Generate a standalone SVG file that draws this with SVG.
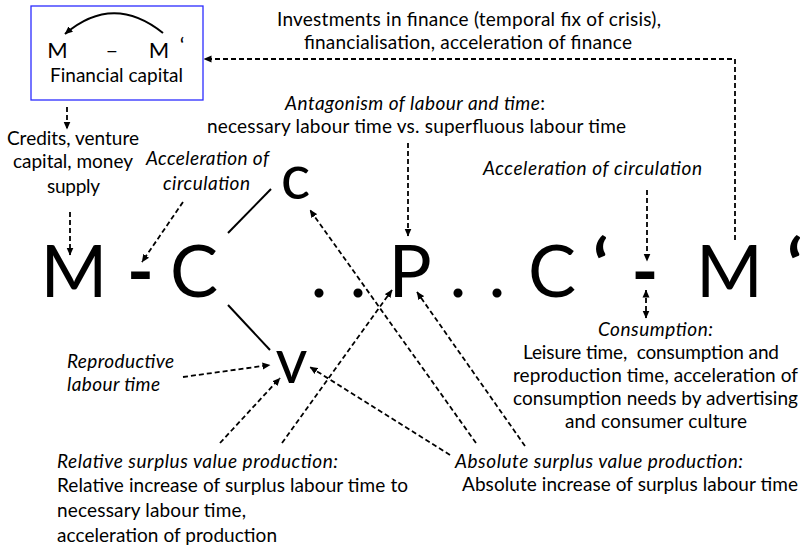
<svg xmlns="http://www.w3.org/2000/svg" width="802" height="548" viewBox="0 0 802 548">
<style>
text{font-family:Lato,"Liberation Sans",sans-serif;fill:#000}
.t{font-size:19px}
.i{font-style:italic}
.m{text-anchor:middle}
.big{font-size:72px;text-anchor:middle}
.sm{font-size:62px;text-anchor:middle}
.bx{font-size:22px;text-anchor:middle}
.b{font-weight:700}
.d{fill:none;stroke:#000;stroke-width:1.8;stroke-dasharray:5 3}
.s{fill:none;stroke:#000;stroke-width:2}
</style>
<defs>
<marker id="a" markerUnits="userSpaceOnUse" markerWidth="8" markerHeight="8" refX="7.5" refY="4" orient="auto-start-reverse" viewBox="0 0 8 8"><path d="M0,0.5 L8,4 L0,7.5z" fill="#000"/></marker>
</defs>
<rect width="802" height="548" fill="#fff"/>

<g id="financial-capital">
<rect x="31" y="6" width="172" height="94" fill="#fff" stroke="#2b2bff" stroke-width="1.3"/>
<path class="s" d="M163,33 Q113,-7 65,34" marker-end="url(#a)"/>
<text x="57.5" y="58" class="bx">M</text>
<text x="112" y="58" class="bx">–</text>
<text x="159" y="58" class="bx">M</text>
<text x="182" y="53" class="bx">‘</text>
<text x="116.5" y="82" class="t m" textLength="133" lengthAdjust="spacing">Financial capital</text>
</g>

<g id="credits">
<text x="73" y="145" class="t m" textLength="132" lengthAdjust="spacing">Credits, venture</text>
<text x="73" y="168" class="t m" textLength="120" lengthAdjust="spacing">capital, money</text>
<text x="73.5" y="193" class="t m" textLength="53" lengthAdjust="spacing">supply</text>
</g>

<g id="investments">
<text x="469" y="26" class="t m" textLength="384" lengthAdjust="spacing">Investments in finance (temporal fix of crisis),</text>
<text x="468" y="49" class="t m" textLength="328" lengthAdjust="spacing">financialisation, acceleration of finance</text>
</g>

<g id="antagonism">
<text x="415" y="110" class="t m" textLength="260" lengthAdjust="spacing"><tspan class="i">Antagonism of labour and time</tspan>:</text>
<text x="416.5" y="133" class="t m" textLength="419" lengthAdjust="spacing">necessary labour time vs. superfluous labour time</text>
</g>

<g id="acceleration-circulation-left">
<text x="207.5" y="165" class="t i m" textLength="123" lengthAdjust="spacing">Acceleration of</text>
<text x="206.5" y="190" class="t i m" textLength="87" lengthAdjust="spacing">circulation</text>
</g>

<g id="acceleration-circulation-right">
<text x="592.5" y="175" class="t i m" textLength="219" lengthAdjust="spacing">Acceleration of circulation</text>
</g>

<g id="formula">
<text x="74" y="297" class="big">M</text>
<text x="140.5" y="297" class="big b">-</text>
<text x="194" y="297" class="big">C</text>
<text x="319" y="297" class="big">.</text>
<text x="358" y="297" class="big">.</text>
<text x="410" y="297" class="big">P</text>
<text x="458" y="297" class="big">.</text>
<text x="497" y="297" class="big">.</text>
<text x="552" y="297" class="big">C</text>
<text x="601" y="292" class="big b">‘</text>
<text x="645" y="297" class="big b">-</text>
<text x="729.5" y="297" class="big">M</text>
<text x="795" y="292" class="big b">‘</text>
</g>

<g id="c-node">
<text x="295.5" y="199" class="sm">c</text>
</g>

<g id="v-node">
<text x="291.5" y="383" class="sm">v</text>
</g>

<g id="reproductive">
<text x="67" y="368" class="t i" textLength="107" lengthAdjust="spacing">Reproductive</text>
<text x="67" y="391" class="t i" textLength="93" lengthAdjust="spacing">labour time</text>
</g>

<g id="consumption">
<text x="655.5" y="336" class="t i m" textLength="115" lengthAdjust="spacing">Consumption:</text>
<text x="651" y="359" class="t m" xml:space="preserve" textLength="256" lengthAdjust="spacing">Leisure time,  consumption and</text>
<text x="655.5" y="382" class="t m" textLength="285" lengthAdjust="spacing">reproduction time, acceleration of</text>
<text x="655.5" y="405" class="t m" textLength="285" lengthAdjust="spacing">consumption needs by advertising</text>
<text x="656" y="428" class="t m" textLength="182" lengthAdjust="spacing">and consumer culture</text>
</g>

<g id="relative">
<text x="57" y="468" class="t i" textLength="281" lengthAdjust="spacing">Relative surplus value production:</text>
<text x="57" y="492" class="t" textLength="351" lengthAdjust="spacing">Relative increase of surplus labour time to</text>
<text x="57" y="517" class="t" textLength="189" lengthAdjust="spacing">necessary labour time,</text>
<text x="57" y="542" class="t" textLength="220" lengthAdjust="spacing">acceleration of production</text>
</g>

<g id="absolute">
<text x="455" y="468" class="t i" textLength="288" lengthAdjust="spacing">Absolute surplus value production:</text>
<text x="462" y="491" class="t" textLength="336" lengthAdjust="spacing">Absolute increase of surplus labour time</text>
</g>

<g id="connectors">
<polyline class="d" points="735,240 735,59 204,59" marker-end="url(#a)"/>
<line class="d" x1="67" y1="107" x2="67" y2="129" marker-end="url(#a)"/>
<line class="d" x1="70" y1="212" x2="70" y2="255" marker-end="url(#a)"/>
<line class="d" x1="183" y1="202" x2="142" y2="262" marker-end="url(#a)"/>
<line class="d" x1="408" y1="143" x2="408" y2="236" marker-end="url(#a)"/>
<line class="d" x1="647" y1="190" x2="647" y2="261" marker-end="url(#a)"/>
<line class="d" x1="646" y1="290" x2="646" y2="318" marker-start="url(#a)" marker-end="url(#a)"/>
<line class="s" x1="228" y1="233" x2="271" y2="189"/>
<line class="s" x1="228" y1="305" x2="270" y2="350"/>
<line class="d" x1="183" y1="377" x2="270" y2="365" marker-end="url(#a)"/>
<line class="d" x1="220" y1="443" x2="280" y2="378" marker-end="url(#a)"/>
<line class="d" x1="282" y1="443" x2="392" y2="290" marker-end="url(#a)"/>
<line class="d" x1="450" y1="455" x2="310" y2="367" marker-end="url(#a)"/>
<line class="d" x1="476" y1="443" x2="310" y2="210" marker-end="url(#a)"/>
<line class="d" x1="525" y1="446" x2="417" y2="292" marker-end="url(#a)"/>
</g>
</svg>
